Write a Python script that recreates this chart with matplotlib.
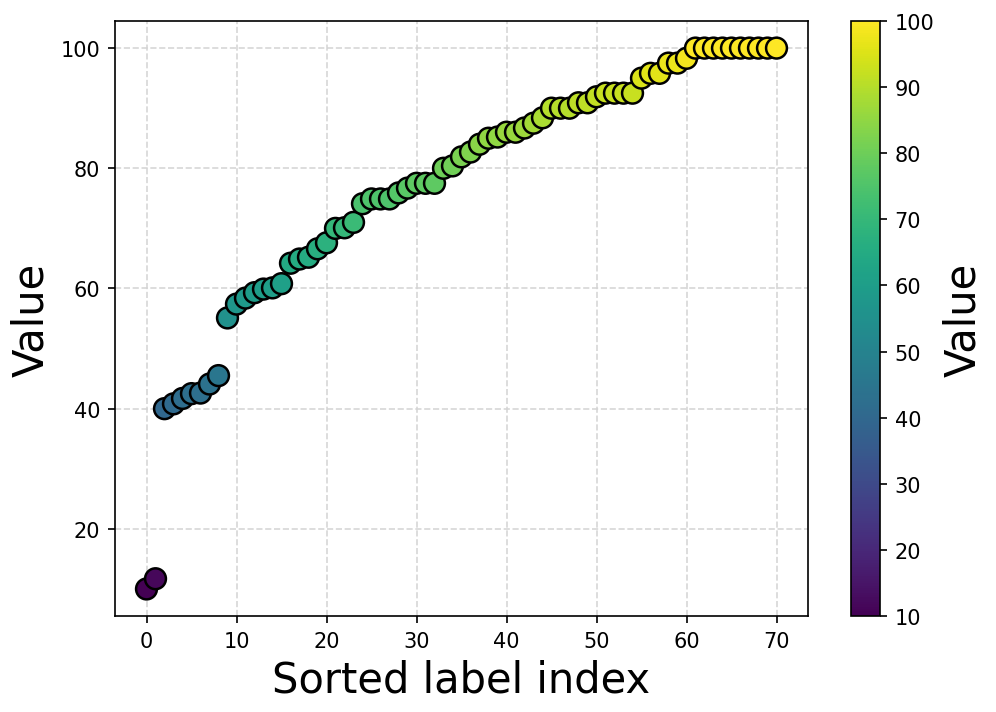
import numpy as np
import matplotlib
matplotlib.use("Agg")
import matplotlib.pyplot as plt

values = [10.0, 11.7, 40.0, 40.8, 41.7, 42.5, 42.6, 44.1, 45.5,
          55.1, 57.4, 58.4, 59.3, 59.9, 60.1, 60.8, 64.2, 64.9, 65.2, 66.6,
          67.6, 70.0, 70.1, 71.0, 74.1, 74.9, 74.9, 74.9, 75.9, 76.7,
          77.5, 77.5, 77.5, 80.0, 80.4, 81.9, 82.7, 84.0, 85.0, 85.2,
          86.0, 86.0, 86.7, 87.5, 88.4, 90.0, 90.0, 90.0, 90.9, 90.9,
          91.9, 92.5, 92.5, 92.5, 92.5, 95.0, 95.8, 95.8, 97.5, 97.5,
          98.3, 100, 100, 100, 100, 100, 100, 100, 100, 100, 100]
index = np.arange(len(values))

fig = plt.figure(figsize=(6.64, 4.753), dpi=150)
ax = fig.add_axes([115/996, 1-617/713, (808-115)/996, (617-22)/713])
cax = fig.add_axes([851/996, 1-617/713, (880-851)/996, (617-22)/713])

sc = ax.scatter(index, values, c=values, cmap='viridis', s=100,
                edgecolors='black', linewidths=1.2, zorder=3)
ax.grid(True, linestyle='--', color='lightgray', alpha=0.9, zorder=0)
ax.set_axisbelow(True)
ax.set_xlabel('Sorted label index', fontsize=20)
ax.set_ylabel('Value', fontsize=20)
ax.tick_params(labelsize=10)

cb = fig.colorbar(sc, cax=cax)
cb.set_label('Value', fontsize=20)
cb.ax.tick_params(labelsize=10)

fig.savefig('out.png', dpi=150)
